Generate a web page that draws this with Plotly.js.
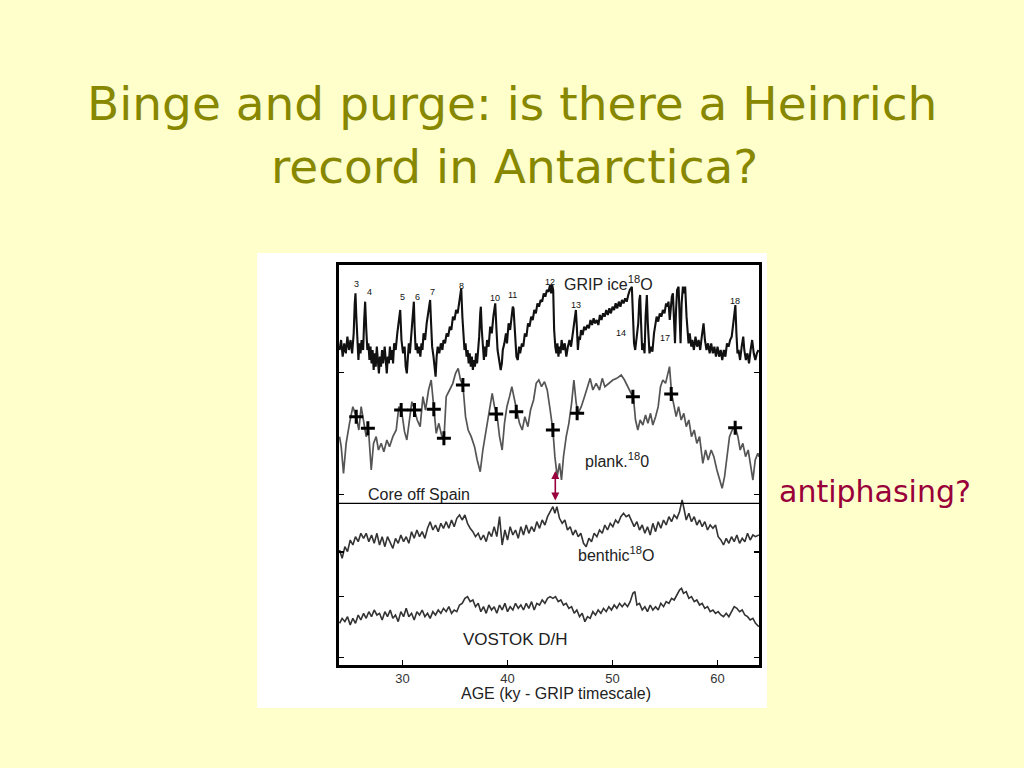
<!DOCTYPE html>
<html>
<head>
<meta charset="utf-8">
<script src="https://cdn.plot.ly/plotly-3.0.1.min.js"></script>
<style>html,body{margin:0;padding:0;background:#FFFFCC;}#chart{width:1024px;height:768px;}</style>
</head>
<body>
<div id="chart"></div>
<script>
// ---- GRIP ice d18O (relative units, larger = lower on chart) ----
const gripAge = [24.0,24.15,24.3,24.45,24.6,24.75,24.9,25.05,25.2,25.35,25.45,25.52,25.6,25.7,25.8,25.9,26.0,26.1,26.25,26.35,26.44,26.55,26.65,26.75,26.85,26.95,27.05,27.15,27.25,27.35,27.45,27.55,27.65,27.75,27.85,27.95,28.05,28.15,28.3,28.4,28.5,28.6,28.7,28.8,28.9,29.0,29.1,29.2,29.35,29.5,29.6,29.78,29.9,30.05,30.2,30.3,30.41,30.5,30.6,30.7,30.85,31.0,31.08,31.15,31.25,31.35,31.45,31.55,31.7,31.8,31.9,32.0,32.15,32.3,32.45,32.55,32.63,32.72,32.82,32.95,33.05,33.15,33.25,33.35,33.5,33.65,33.8,33.9,34.05,34.2,34.35,34.5,34.65,34.8,34.95,35.1,35.25,35.4,35.5,35.59,35.7,35.8,35.9,36.0,36.1,36.2,36.3,36.4,36.5,36.6,36.7,36.8,36.9,37.0,37.1,37.2,37.3,37.4,37.46,37.55,37.65,37.75,37.85,37.95,38.05,38.2,38.35,38.5,38.65,38.75,38.83,38.95,39.05,39.2,39.35,39.46,39.55,39.7,39.85,39.95,40.1,40.25,40.4,40.5,40.57,40.65,40.75,40.85,40.98,41.1,41.2,41.37,41.5,41.65,41.8,41.95,42.1,42.25,42.4,42.55,42.7,42.85,43.0,43.15,43.3,43.45,43.6,43.75,43.9,44.05,44.15,44.25,44.35,44.44,44.55,44.65,44.75,44.85,44.95,45.05,45.15,45.3,45.45,45.6,45.75,45.9,46.05,46.2,46.35,46.45,46.51,46.6,46.7,46.8,46.9,47.0,47.15,47.3,47.45,47.6,47.75,47.9,48.05,48.2,48.35,48.5,48.65,48.8,48.95,49.1,49.25,49.4,49.55,49.7,49.85,50.0,50.15,50.3,50.45,50.6,50.75,50.9,51.05,51.2,51.35,51.5,51.65,51.84,51.95,52.05,52.16,52.3,52.45,52.55,52.63,52.72,52.82,52.95,53.05,53.15,53.27,53.36,53.45,53.52,53.65,53.8,53.95,54.06,54.2,54.35,54.5,54.65,54.8,54.95,55.1,55.2,55.33,55.45,55.55,55.65,55.75,55.85,55.95,56.05,56.15,56.29,56.38,56.48,56.58,56.7,56.8,56.92,57.05,57.15,57.24,57.35,57.5,57.6,57.75,57.9,58.05,58.2,58.35,58.5,58.67,58.8,58.95,59.1,59.25,59.4,59.55,59.7,59.85,60.0,60.15,60.3,60.45,60.6,60.75,60.9,61.05,61.2,61.35,61.5,61.62,61.7,61.8,61.9,62.0,62.15,62.3,62.45,62.55,62.7,62.85,63.0,63.15,63.3,63.45,63.6,63.75,63.9];
const gripVal = [30,27,32,28,31,26,30,27,31,25,16,13,20,30,33,28,31,27,30,21,15.5,24,30,28,33,29,34,30,36,31,35,29,33,37,32,35,30,34,29,33,37,32,34,29,33,30,34,28,30,25,22,18,27,31,29,35,37,32,28,31,24,17,15.5,23,30,28,31,29,32,28,30,25,27,22,19,16,15,22,29,32,36,38,32,29,31,28,30,27,28,25,26,23,24,20,21,18,19,15,13,11.5,20,27,30,28,32,30,34,31,35,32,36,33,35,31,34,30,26,19,17,24,30,33,29,32,27,29,23,25,20,17,16,24,30,33,36,34,30,28,25,28,22,24,19,17,17.5,23,29,32,33,29,31,28,29,25,26,22,23,20,21,18,19,16,17,15,15.5,13,14,12,12.5,10.5,13,10.5,12,24,29,31,28,32,29,31,27,30,28,32,29,27,29,25,22,19,18,23,30,26,27,24,25.5,23,24,22.5,23.5,21,22.5,20.5,22,21,22.5,19.5,21,19,20,18,19.5,17.5,19,17,18,16,17.5,15.5,17,15,16,14.5,15.5,13.5,12,11,20,28,30,26,22,15,13.5,22,30,28,31,20,13.5,22,30,31,29,30.5,25,23,20,21.5,19,20,18,19,16,17,15.5,21,17,14,13,20,28,18,12,11,22,28,16,11,13,11,20,26,28,25,29,27,30,26,29,27,30,26,22,27,30,28,31,28,31,29,32,29,32,30,33,30,32,28,29,27,26,22,17.5,16.5,25,31,30,33,29,26,30,33,31,34,30,27,31,33,31,30];

// ---- Planktonic d18O, core off Spain ----
const plankAge = [24.0,24.16,24.38,24.63,24.95,25.27,25.59,25.84,26.06,26.29,26.54,26.76,27.02,27.24,27.49,27.71,27.97,28.22,28.51,28.76,29.08,29.4,29.65,29.9,30.19,30.41,30.67,30.89,31.14,31.4,31.68,31.94,32.19,32.48,32.73,32.98,33.21,33.46,33.71,33.94,34.16,34.48,34.79,35.05,35.3,35.52,35.75,36.0,36.25,36.54,36.86,37.11,37.4,37.65,37.97,38.29,38.54,38.76,38.98,39.24,39.49,39.71,39.94,40.19,40.41,40.67,40.89,41.14,41.4,41.65,41.94,42.19,42.48,42.73,42.98,43.24,43.52,43.78,44.06,44.32,44.51,44.73,44.95,45.14,45.33,45.59,45.84,46.1,46.32,46.54,46.73,47.02,47.33,47.65,47.87,48.13,48.44,48.76,49.02,49.27,49.65,50.03,50.41,50.83,51.14,51.46,51.78,52.0,52.19,52.41,52.63,52.89,53.14,53.37,53.62,53.84,54.1,54.35,54.57,54.79,55.05,55.27,55.43,55.62,55.84,56.06,56.29,56.54,56.79,57.02,57.27,57.52,57.78,58.03,58.29,58.6,58.86,59.11,59.4,59.65,59.94,60.19,60.44,60.67,60.89,61.14,61.4,61.68,61.94,62.16,62.41,62.67,62.92,63.17,63.37,63.59,63.84,63.95];
const plankVal = [21,24,32,23,17,12,15,19,12,17,21,19,31,23,21,25,23,25.5,22,24,21,19,12,13,19.5,22,15,10.5,13,16,18,9,13,7,4,13,20,17,20.5,22,9,7,5,2,0.5,4,5.5,15,19,21,24,28,31.5,25,19,12,8,12,14,21,25,17,12,9,6,10,13.5,17,19,15,18,13,10,5,4,6,4.5,7,13,19,27,33,29,34,27,21,17,11,4,11,14,12,9,6,3.5,7,5,7,3.5,6,5,4,3.5,2.5,4,6,8,9.5,16,19,16,17.5,14.5,17,14,17.5,15,12,6,4,5,2,0,8,12,15,12,16,14,18,16,21,19,23,21,29,25,28,25,27,31,34,36.5,33,27,21,19,18,21,25,23,27,25,30,34,28,26,27];
// crosses on the planktonic record
const crossAge = [25.59,26.7,29.87,31.14,32.98,33.94,35.75,38.92,40.83,44.32,46.63,51.94,55.59,61.68];
const crossVal = [15,18.5,13,13,12.8,21.5,5.5,14.2,13.5,19,14,9,8.2,18.3];

// ---- Benthic d18O ----
const benthicAge = [24.0,24.25,24.51,24.76,25.02,25.27,25.52,25.78,26.03,26.29,26.54,26.79,27.05,27.3,27.56,27.81,28.06,28.32,28.57,28.83,29.08,29.33,29.59,29.84,30.1,30.35,30.6,30.86,31.11,31.37,31.62,31.87,32.13,32.38,32.63,32.89,33.14,33.4,33.65,33.9,34.16,34.41,34.67,34.92,35.17,35.43,35.68,35.94,36.19,36.44,36.7,36.95,37.21,37.46,37.71,37.97,38.22,38.48,38.73,38.98,39.24,39.49,39.75,40.0,40.25,40.51,40.76,41.02,41.27,41.52,41.78,42.03,42.29,42.54,42.79,43.05,43.3,43.56,43.81,44.06,44.32,44.51,44.7,44.95,45.21,45.46,45.71,45.97,46.22,46.48,46.73,46.98,47.24,47.49,47.75,48.0,48.25,48.51,48.76,49.02,49.27,49.52,49.78,50.03,50.29,50.54,50.79,51.05,51.3,51.56,51.81,52.06,52.32,52.57,52.83,53.08,53.33,53.59,53.84,54.1,54.35,54.6,54.86,55.11,55.37,55.62,55.87,56.13,56.38,56.63,56.83,57.02,57.27,57.52,57.78,58.03,58.29,58.54,58.79,59.05,59.3,59.56,59.81,60.06,60.32,60.57,60.83,61.08,61.33,61.59,61.84,62.1,62.35,62.6,62.86,63.11,63.37,63.62,63.94];
const benthicVal = [15,17.5,14,15.5,12,13.5,11,12.5,10,11.5,10,12.5,10.5,13,10,13.5,11,14,11,13,14.5,11.5,13,10.5,12.5,11,13,9.5,11.5,9,11,9.5,11.5,8.5,6.5,9,7.5,9.5,7,8.5,6.5,8.5,6,8,5.5,4.5,6,4.5,7,8.5,9.5,11,10,12,10.5,12.5,9.5,11,8,11,5,13.5,9,12,8,10.5,9,11.5,8,10.5,7.5,10,8,9.5,6.5,8.5,6,7.5,5,3.5,2,4,2,5.5,7,6,9,8,10.5,9,11,10,13,14,11.5,12.5,10,11,9,10,7.5,9,7,8,6,7,5,4,5,4.5,6.5,8,6.5,9,7.5,10,8,10.5,7,9.5,6.5,8.5,6,7.5,5,6.5,4.5,5.5,3.5,0,3,6,4,6.5,5,7.5,6,8,6.5,9,7.5,8.5,7.5,11,12,13.5,11.5,13,11,12.5,10.5,13,11.5,12.5,10,12,10.5,11,10.5];

// ---- VOSTOK D/H ----
const vostokAge = [24.0,24.25,24.51,24.76,25.02,25.27,25.52,25.78,26.03,26.29,26.54,26.79,27.05,27.3,27.56,27.81,28.06,28.32,28.57,28.83,29.08,29.33,29.59,29.84,30.1,30.35,30.6,30.86,31.11,31.37,31.62,31.87,32.13,32.38,32.63,32.89,33.14,33.4,33.65,33.9,34.16,34.41,34.67,34.92,35.17,35.43,35.68,35.94,36.19,36.44,36.7,36.95,37.21,37.46,37.71,37.97,38.22,38.48,38.73,38.98,39.24,39.49,39.75,40.0,40.25,40.51,40.76,41.02,41.27,41.52,41.78,42.03,42.29,42.54,42.79,43.05,43.3,43.56,43.81,44.06,44.32,44.57,44.83,45.08,45.33,45.59,45.84,46.1,46.35,46.6,46.86,47.11,47.37,47.62,47.87,48.13,48.38,48.63,48.89,49.14,49.4,49.65,49.9,50.16,50.41,50.67,50.92,51.17,51.43,51.68,51.94,52.13,52.32,52.57,52.83,53.08,53.33,53.59,53.84,54.1,54.35,54.6,54.86,55.11,55.37,55.62,55.87,56.13,56.38,56.57,56.76,57.02,57.27,57.52,57.78,58.03,58.29,58.54,58.79,59.05,59.3,59.56,59.81,60.06,60.32,60.57,60.83,61.08,61.33,61.59,61.84,62.1,62.35,62.6,62.86,63.11,63.37,63.62,63.94];
const vostokVal = [12,10.5,11.5,10,12.5,10.5,12,9.5,11,9,10.5,8.5,10,8,9.5,9,11,8.5,10,8,10.5,9.5,11.5,8.5,10,7.5,10,9,11,8.5,9.5,8,10,9,10.5,8.5,9.5,8,9,7.5,8.5,7,9,8,8.5,6.5,6,4.5,4,5.5,5,7,6,8.5,7,9,6.5,8,7,9,6.5,8,6,8.5,7,8,6,7.5,6.5,8,6,7.5,5.5,8,6,6.5,5,6,4.5,4,4.5,4,5.5,5,6.5,6,7.5,7,9,8,10,9,11.5,10,10.5,8.5,9.5,8,9,7.5,8.5,7,8,6.5,7.5,6,7,6,7,5.5,3,2.5,6.5,6,8,7,8.5,6.5,8,7,8,6,7,5.5,6,4.5,5,3.5,2,1.5,3,2.5,4.5,4,5.5,5,6.5,6,7.5,7,8.5,8,9,8.5,9.5,10,9,10,8.5,7,7.5,8.5,8,9.5,10,11,10.5,12,13];

// ---- interstadial event numbers on the GRIP record ----
const eventLabels = ['3','4','5','6','7','8','10','11','12','13','14','17','18'];
const eventAge = [25.59,26.86,30.03,31.4,32.89,35.65,38.83,40.51,44.0,46.54,50.76,55.02,61.68];
const eventVal = [10.3,12.5,14.2,14.0,12.6,10.8,14.3,13.6,9.7,16.6,24.8,26.5,15.3];

const ageTicks = [30,40,50,60];

const sans = 'Liberation Sans, Arial, sans-serif';
const traces = [
  {x: gripAge, y: gripVal, type:'scatter', mode:'lines', yaxis:'y', line:{color:'#111', width:2.1}, hoverinfo:'skip'},
  {x: plankAge, y: plankVal, type:'scatter', mode:'lines', yaxis:'y2', line:{color:'#555', width:1.7}, hoverinfo:'skip'},
  {x: crossAge, y: crossVal, type:'scatter', mode:'markers', yaxis:'y2',
   marker:{symbol:'cross-thin', size:10, color:'#000', line:{color:'#000', width:3}}, hoverinfo:'skip'},
  {x: benthicAge, y: benthicVal, type:'scatter', mode:'lines', yaxis:'y3', line:{color:'#333', width:1.6}, hoverinfo:'skip'},
  {x: vostokAge, y: vostokVal, type:'scatter', mode:'lines', yaxis:'y4', line:{color:'#333', width:1.6}, hoverinfo:'skip'}
];

const annotations = [];
eventLabels.forEach((t,i)=>annotations.push({x:eventAge[i], y:eventVal[i], xref:'x', yref:'y', text:t, showarrow:false, xanchor:'center', yanchor:'middle', font:{family:sans, size:9, color:'#111'}}));
const lab = (txt, x, y, size) => ({x:x, y:y, xref:'x', yref:'y', text:txt, showarrow:false, xanchor:'center', yanchor:'middle', font:{family:sans, size:size||16, color:'#222'}});
annotations.push(lab('GRIP ice<sup>18</sup>O', 49.6, 10.0));
annotations.push(lab('plank.<sup>18</sup>0', 50.4, 63));
annotations.push(lab('Core off Spain', 31.6, 73.2));
annotations.push(lab('benthic<sup>18</sup>O', 50.35, 91.3));
annotations.push(lab('VOSTOK D/H', 40.76, 116.8, 17));
// red double arrow
annotations.push({x:44.55, y:66.3, ax:44.55, ay:75.6, xref:'x', yref:'y', axref:'x', ayref:'y', text:'', showarrow:true,
  arrowhead:2, startarrowhead:2, arrowside:'end+start', arrowsize:1, arrowwidth:1.6, arrowcolor:'#99003D', standoff:0, startstandoff:0});
// x-axis title
annotations.push({xref:'paper', yref:'paper', x:0.517, y:-0.07, text:'AGE (ky - GRIP timescale)', showarrow:false, xanchor:'center', yanchor:'middle', font:{family:sans, size:16, color:'#222'}});
// slide title + side remark
const ttl = {family:'DejaVu Sans, sans-serif', size:47, color:'#878700'};
annotations.push({xref:'paper', yref:'paper', x:0.412, y:1.405, text:'Binge and purge: is there a Heinrich', showarrow:false, xanchor:'center', yanchor:'middle', font:ttl});
annotations.push({xref:'paper', yref:'paper', x:0.417, y:1.246, text:'record in Antarctica?', showarrow:false, xanchor:'center', yanchor:'middle', font:ttl});
annotations.push({xref:'paper', yref:'paper', x:1.275, y:0.435, text:'antiphasing?', showarrow:false, xanchor:'center', yanchor:'middle', font:{family:'DejaVu Sans, sans-serif', size:30, color:'#99003A'}});

const hiddenY = (r) => ({range:r, overlaying:'y', visible:false, showgrid:false, zeroline:false, fixedrange:true});

const layout = {
  width:1024, height:768,
  margin:{l:339, r:265, t:265, b:103, pad:0},
  paper_bgcolor:'#FFFFCC', plot_bgcolor:'#ffffff',
  showlegend:false,
  xaxis:{range:[23.95,63.95], tickvals:ageTicks, ticktext:ageTicks.map(String), ticks:'inside', ticklen:5, tickwidth:1.2, tickcolor:'#000',
         showline:true, linecolor:'#000', linewidth:2.6, mirror:true, showgrid:false, zeroline:false,
         tickfont:{family:sans, size:13, color:'#333'}},
  yaxis:{range:[124.5,4.5], tickvals:[36.7,73.3,90.6,103.9,122.2], ticks:'inside', ticklen:5, tickwidth:1.2, tickcolor:'#000', showticklabels:false,
         showline:true, linecolor:'#000', linewidth:2.6, mirror:'ticks', showgrid:false, zeroline:false},
  yaxis2: hiddenY([89.5,-30.5]),
  yaxis3: hiddenY([49.5,-70.5]),
  yaxis4: hiddenY([24.5,-95.5]),
  shapes:[
    {type:'rect', xref:'paper', yref:'paper', x0:-0.195, x1:1.019, y0:-0.1075, y1:1.03, fillcolor:'#ffffff', line:{width:0}, layer:'below'},
    {type:'line', xref:'paper', yref:'y', x0:0, x1:1, y0:76, y1:76, line:{color:'#000', width:1.2}}
  ],
  annotations: annotations
};

Plotly.newPlot('chart', traces, layout, {staticPlot:true, displayModeBar:false});
</script>
</body>
</html>
